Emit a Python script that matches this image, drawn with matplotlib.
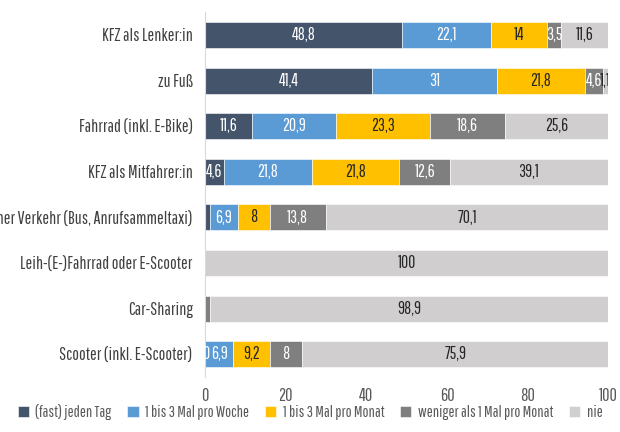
import matplotlib
matplotlib.use("Agg")
import matplotlib.pyplot as plt
from matplotlib import font_manager

# Fonts: a narrow sans if available
names = {f.name for f in font_manager.fontManager.ttflist}
FONT = "DejaVu Sans"
for cand in ["Pathway Gothic One", "Roboto Condensed", "Liberation Sans Narrow", "Liberation Sans"]:
    if cand in names:
        FONT = cand
        break
plt.rcParams["font.family"] = [FONT, "DejaVu Sans"]

# Data
categories = [
    "KFZ als Lenker:in",
    "zu Fuß",
    "Fahrrad (inkl. E-Bike)",
    "KFZ als Mitfahrer:in",
    "Öffentlicher Verkehr (Bus, Anrufsammeltaxi)",
    "Leih-(E-)Fahrrad oder E-Scooter",
    "Car-Sharing",
    "Scooter (inkl. E-Scooter)",
]
series_names = [
    "(fast) jeden Tag",
    "1 bis 3 Mal pro Woche",
    "1 bis 3 Mal pro Monat",
    "weniger als 1 Mal pro Monat",
    "nie",
]
taeglich = [48.8, 41.4, 11.6, 4.6, 1.2, 0, 0, 0]
woche = [22.1, 31, 20.9, 21.8, 6.9, 0, 0, 6.9]
monat = [14, 21.8, 23.3, 21.8, 8, 0, 0, 9.2]
seltener = [3.5, 4.6, 18.6, 12.6, 13.8, 0, 1.1, 8]
nie = [11.6, 1.1, 25.6, 39.1, 70.1, 100, 98.9, 75.9]

# labels not shown in the original (row, series)
hidden = {(4, 0), (6, 3)}
shown_zero = {(7, 0)}

colors = ["#44546A", "#5B9BD5", "#FFC000", "#7F7F7F", "#D0CECE"]
text_colors = ["white", "white", "#262626", "white", "#262626"]

fig = plt.figure(figsize=(6.2, 4.32), dpi=100)
ax = fig.add_axes([0.331, 0.127, 0.65, 0.845])

values = [taeglich, woche, monat, seltener, nie]
y = list(range(len(categories)))
left = [0.0] * len(categories)
for s, vals in enumerate(values):
    ax.barh(y, vals, left=left, height=0.57, color=colors[s],
            edgecolor="white", linewidth=0.4, label=series_names[s])
    for i, v in enumerate(vals):
        if (v > 0 and (i, s) not in hidden) or (i, s) in shown_zero:
            txt = f"{v:g}".replace(".", ",")
            ax.text(left[i] + v / 2, i, txt, ha="center", va="center",
                    color=text_colors[s], fontsize=12.5, clip_on=True)
    left = [l + v for l, v in zip(left, vals)]

ax.set_xlim(0, 100)
ax.set_ylim(len(categories) - 0.5, -0.5)
ax.set_yticks(y)
ax.set_yticklabels(categories, fontsize=12.8, color="#404040")
ax.set_xticks([0, 20, 40, 60, 80, 100])
ax.tick_params(axis="x", length=0, labelsize=13, labelcolor="#595959", pad=8)
ax.tick_params(axis="y", length=0, pad=9)
for side in ["top", "right", "bottom"]:
    ax.spines[side].set_visible(False)
ax.spines["left"].set_color("#D9D9D9")

fig.legend(loc="lower center", bbox_to_anchor=(0.5, -0.005), ncol=5, frameon=False,
           fontsize=11.5, handlelength=0.7, handleheight=0.7, handletextpad=0.4,
           columnspacing=1.0, labelcolor="#595959")

fig.savefig("out.png", dpi=100)
